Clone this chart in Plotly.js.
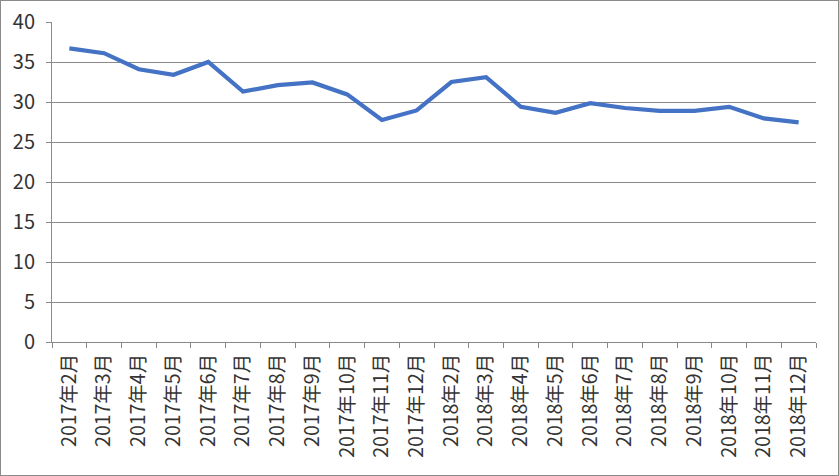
<!DOCTYPE html>
<html>
<head>
<meta charset="utf-8">
<script src="https://cdn.plot.ly/plotly-3.0.1.min.js"></script>
<style>
html,body{margin:0;padding:0;background:#fff;}
#chart{width:837px;height:474px;border:1px solid #8a8a8a;}
</style>
</head>
<body>
<div id="chart"></div>
<script>
const categories = ["2017年2月","2017年3月","2017年4月","2017年5月","2017年6月","2017年7月","2017年8月","2017年9月","2017年10月","2017年11月","2017年12月","2018年2月","2018年3月","2018年4月","2018年5月","2018年6月","2018年7月","2018年8月","2018年9月","2018年10月","2018年11月","2018年12月"];
const values = [36.7,36.1,34.1,33.4,35.0,31.3,32.1,32.45,30.95,27.75,28.95,32.5,33.1,29.4,28.65,29.85,29.25,28.9,28.9,29.4,27.95,27.45];
const yTicks = [0,5,10,15,20,25,30,35,40];

const trace = {
  x: categories,
  y: values,
  type: 'scatter',
  mode: 'lines',
  line: {color: '#4472C4', width: 4.2},
  hoverinfo: 'skip'
};

const layout = {
  width: 837, height: 474,
  margin: {l: 51, r: 22, t: 21, b: 133, pad: 0},
  paper_bgcolor: '#ffffff',
  plot_bgcolor: '#ffffff',
  showlegend: false,
  font: {family: '"Noto Sans CJK SC", "Noto Sans", sans-serif', color: '#333333', size: 17},
  xaxis: {
    type: 'category',
    range: [-0.5, categories.length - 0.5],
    tickson: 'boundaries',
    ticks: 'outside', ticklen: 5, tickcolor: '#8a8a8a', tickwidth: 1,
    showline: true, linecolor: '#8a8a8a', linewidth: 1,
    showgrid: false, zeroline: false,
    tickangle: -90,
    ticklabelstandoff: 3,
    tickfont: {size: 19.5, color: '#333333'},
    fixedrange: true
  },
  yaxis: {
    range: [0, 40],
    tickvals: yTicks,
    ticktext: yTicks.map(String),
    ticks: 'outside', ticklen: 5, tickcolor: '#8a8a8a', tickwidth: 1,
    showline: true, linecolor: '#8a8a8a', linewidth: 1,
    showgrid: true, gridcolor: '#8a8a8a', gridwidth: 1,
    zeroline: false,
    ticklabelstandoff: 7,
    tickfont: {size: 20, color: '#333333'},
    fixedrange: true
  }
};

Plotly.newPlot('chart', [trace], layout, {displayModeBar: false, staticPlot: true});
</script>
</body>
</html>
